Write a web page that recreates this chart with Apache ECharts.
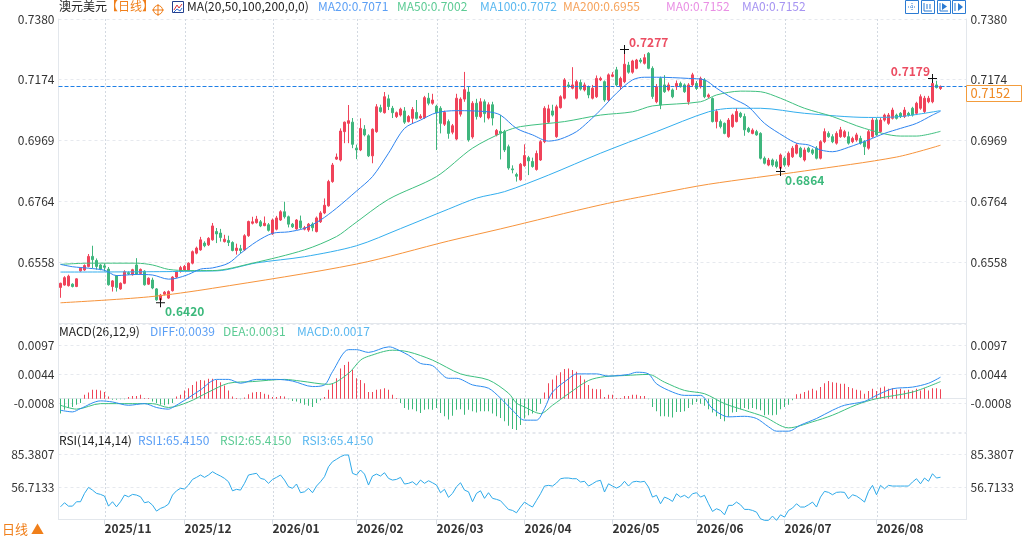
<!DOCTYPE html>
<html><head><meta charset="utf-8">
<script src="https://cdn.jsdelivr.net/npm/echarts@6/dist/echarts.min.js"></script>
<style>html,body{margin:0;padding:0;background:#fff}#c{width:1025px;height:540px}</style>
</head><body><div id="c"></div>
<script>
const FONT = "'Noto Sans CJK SC','Noto Sans',sans-serif";
// [open, close, low, high]
const candles = [
[0.6472,0.6486,0.6437,0.6488],[0.6480,0.6505,0.6478,0.6510],[0.6478,0.6510,0.6475,0.6515],[0.6483,0.6475,0.6472,0.6486],[0.6475,0.6501,0.6473,0.6503],
[0.6528,0.6537,0.6525,0.6540],[0.6531,0.6546,0.6528,0.6550],[0.6543,0.6577,0.6540,0.6585],[0.6577,0.6566,0.6537,0.6613],[0.6563,0.6543,0.6532,0.6570],
[0.6548,0.6534,0.6530,0.6551],[0.6545,0.6540,0.6526,0.6553],[0.6534,0.6481,0.6478,0.6541],[0.6475,0.6494,0.6458,0.6497],[0.6511,0.6472,0.6458,0.6514],
[0.6467,0.6486,0.6464,0.6489],[0.6486,0.6525,0.6483,0.6530],[0.6522,0.6518,0.6514,0.6526],[0.6515,0.6532,0.6512,0.6535],[0.6548,0.6517,0.6514,0.6571],
[0.6519,0.6533,0.6515,0.6536],[0.6527,0.6481,0.6478,0.6530],[0.6483,0.6503,0.6480,0.6506],[0.6497,0.6470,0.6466,0.6505],[0.6467,0.6430,0.6427,0.6470],
[0.6430,0.6446,0.6420,0.6450],[0.6449,0.6456,0.6445,0.6460],[0.6436,0.6458,0.6433,0.6462],[0.6461,0.6507,0.6458,0.6510],[0.6507,0.6524,0.6503,0.6528],
[0.6526,0.6539,0.6522,0.6545],[0.6531,0.6543,0.6528,0.6548],[0.6531,0.6554,0.6528,0.6557],[0.6554,0.6593,0.6550,0.6597],[0.6588,0.6605,0.6584,0.6610],
[0.6599,0.6633,0.6596,0.6643],[0.6622,0.6613,0.6608,0.6628],[0.6616,0.6638,0.6612,0.6642],[0.6633,0.6680,0.6630,0.6690],[0.6661,0.6653,0.6622,0.6673],
[0.6656,0.6641,0.6627,0.6670],[0.6627,0.6635,0.6624,0.6650],[0.6631,0.6624,0.6612,0.6647],[0.6624,0.6597,0.6594,0.6628],[0.6597,0.6605,0.6583,0.6620],
[0.6603,0.6597,0.6587,0.6616],[0.6599,0.6647,0.6595,0.6652],[0.6647,0.6695,0.6643,0.6698],[0.6689,0.6694,0.6685,0.6711],[0.6691,0.6703,0.6688,0.6714],
[0.6694,0.6680,0.6676,0.6700],[0.6681,0.6689,0.6679,0.6712],[0.6684,0.6665,0.6661,0.6690],[0.6653,0.6700,0.6650,0.6705],[0.6669,0.6707,0.6665,0.6714],
[0.6700,0.6728,0.6697,0.6733],[0.6728,0.6711,0.6705,0.6762],[0.6711,0.6686,0.6675,0.6715],[0.6686,0.6677,0.6673,0.6690],[0.6670,0.6700,0.6667,0.6703],
[0.6697,0.6674,0.6670,0.6715],[0.6669,0.6674,0.6665,0.6680],[0.6666,0.6686,0.6660,0.6690],[0.6686,0.6674,0.6662,0.6692],[0.6661,0.6707,0.6658,0.6712],
[0.6694,0.6724,0.6690,0.6730],[0.6724,0.6750,0.6720,0.6773],[0.6748,0.6830,0.6745,0.6836],[0.6830,0.6886,0.6826,0.6893],[0.6906,0.6913,0.6903,0.6925],
[0.6903,0.7001,0.6898,0.7010],[0.6999,0.7031,0.6960,0.7033],[0.7027,0.7036,0.6960,0.7089],[0.7031,0.6956,0.6943,0.7045],[0.6943,0.6937,0.6906,0.6955],
[0.6937,0.7010,0.6933,0.7044],[0.7007,0.6988,0.6983,0.7021],[0.6985,0.6917,0.6913,0.6990],[0.6917,0.7007,0.6892,0.7010],[0.6999,0.7083,0.6995,0.7092],
[0.7080,0.7067,0.7063,0.7090],[0.7063,0.7117,0.7060,0.7133],[0.7110,0.7084,0.7072,0.7124],[0.7078,0.7063,0.7045,0.7086],[0.7050,0.7063,0.7045,0.7067],
[0.7055,0.7075,0.7050,0.7080],[0.7069,0.7031,0.7025,0.7082],[0.7033,0.7050,0.7030,0.7055],[0.7044,0.7074,0.7025,0.7082],[0.7064,0.7044,0.7040,0.7106],
[0.7045,0.7051,0.7042,0.7058],[0.7046,0.7114,0.7042,0.7120],[0.7112,0.7095,0.7088,0.7130],[0.7095,0.7106,0.7090,0.7127],[0.7085,0.7062,0.6937,0.7090],
[0.7078,0.7027,0.6993,0.7085],[0.7024,0.7064,0.7018,0.7070],[0.7033,0.6993,0.6975,0.7040],[0.6997,0.7019,0.6990,0.7025],[0.6974,0.7112,0.6970,0.7127],
[0.7058,0.7109,0.7050,0.7115],[0.7109,0.7141,0.7100,0.7201],[0.7133,0.6971,0.6965,0.7153],[0.6981,0.7095,0.6975,0.7102],[0.7095,0.7050,0.7040,0.7110],
[0.7050,0.7100,0.7045,0.7112],[0.7100,0.7060,0.7030,0.7108],[0.7045,0.7090,0.7040,0.7098],[0.7090,0.7045,0.7020,0.7100],[0.6988,0.7003,0.6983,0.7008],
[0.7000,0.6994,0.6905,0.7055],[0.6999,0.6937,0.6930,0.7005],[0.6948,0.6876,0.6870,0.6955],[0.6873,0.6870,0.6858,0.6885],[0.6854,0.6848,0.6830,0.6860],
[0.6836,0.6889,0.6833,0.6893],[0.6884,0.6918,0.6880,0.6956],[0.6911,0.6900,0.6852,0.6917],[0.6898,0.6881,0.6877,0.6911],[0.6871,0.6925,0.6867,0.6935],
[0.6903,0.6965,0.6900,0.6970],[0.6965,0.7078,0.6960,0.7085],[0.7031,0.7076,0.7028,0.7090],[0.7069,0.7055,0.7050,0.7090],[0.6982,0.7083,0.6978,0.7090],
[0.7080,0.7117,0.7077,0.7122],[0.7112,0.7174,0.7108,0.7180],[0.7157,0.7152,0.7147,0.7167],[0.7146,0.7157,0.7142,0.7217],[0.7112,0.7168,0.7108,0.7174],
[0.7165,0.7143,0.7138,0.7175],[0.7140,0.7157,0.7135,0.7165],[0.7151,0.7123,0.7112,0.7155],[0.7112,0.7146,0.7108,0.7157],[0.7117,0.7179,0.7113,0.7189],
[0.7174,0.7179,0.7170,0.7185],[0.7168,0.7106,0.7100,0.7172],[0.7106,0.7191,0.7100,0.7196],[0.7186,0.7191,0.7183,0.7200],[0.7208,0.7157,0.7152,0.7218],
[0.7151,0.7179,0.7140,0.7185],[0.7168,0.7227,0.7163,0.7277],[0.7224,0.7200,0.7195,0.7235],[0.7200,0.7238,0.7195,0.7242],[0.7213,0.7241,0.7210,0.7245],
[0.7241,0.7236,0.7230,0.7248],[0.7230,0.7249,0.7226,0.7261],[0.7264,0.7213,0.7210,0.7268],[0.7213,0.7118,0.7110,0.7220],[0.7100,0.7151,0.7095,0.7160],
[0.7179,0.7089,0.7075,0.7185],[0.7157,0.7134,0.7130,0.7190],[0.7140,0.7157,0.7135,0.7165],[0.7140,0.7117,0.7112,0.7145],[0.7151,0.7162,0.7140,0.7172],
[0.7162,0.7151,0.7148,0.7168],[0.7157,0.7134,0.7130,0.7162],[0.7100,0.7157,0.7090,0.7163],[0.7157,0.7191,0.7150,0.7198],[0.7162,0.7145,0.7140,0.7170],
[0.7151,0.7179,0.7145,0.7185],[0.7174,0.7117,0.7112,0.7180],[0.7117,0.7123,0.7112,0.7128],[0.7111,0.7033,0.7030,0.7115],[0.7033,0.7067,0.7010,0.7075],
[0.7033,0.7016,0.7010,0.7040],[0.7027,0.6993,0.6990,0.7030],[0.6982,0.7038,0.6978,0.7045],[0.7016,0.7055,0.7012,0.7060],[0.7033,0.7067,0.7030,0.7079],
[0.7061,0.7050,0.7045,0.7066],[0.7050,0.7005,0.6985,0.7060],[0.7010,0.6999,0.6995,0.7015],[0.6993,0.7004,0.6990,0.7010],[0.6999,0.6988,0.6985,0.7005],
[0.6993,0.6909,0.6905,0.6997],[0.6909,0.6892,0.6888,0.6915],[0.6886,0.6903,0.6882,0.6910],[0.6903,0.6886,0.6880,0.6908],[0.6897,0.6881,0.6875,0.6905],
[0.6875,0.6920,0.6864,0.6925],[0.6909,0.6886,0.6880,0.6915],[0.6886,0.6926,0.6880,0.6932],[0.6914,0.6943,0.6910,0.6950],[0.6926,0.6954,0.6922,0.6960],
[0.6943,0.6914,0.6910,0.6948],[0.6903,0.6937,0.6898,0.6945],[0.6943,0.6931,0.6928,0.6948],[0.6937,0.6926,0.6920,0.6942],[0.6943,0.6909,0.6905,0.6950],
[0.6909,0.6965,0.6905,0.6970],[0.6965,0.6999,0.6960,0.7010],[0.6993,0.6982,0.6978,0.7000],[0.6982,0.6965,0.6960,0.6990],[0.6960,0.6993,0.6955,0.7000],
[0.6982,0.7005,0.6978,0.7015],[0.6982,0.6999,0.6978,0.7005],[0.6982,0.6960,0.6955,0.6999],[0.6965,0.6976,0.6960,0.6982],[0.6971,0.6988,0.6965,0.6995],
[0.6976,0.6960,0.6955,0.6985],[0.6965,0.6948,0.6920,0.6970],[0.6943,0.6999,0.6938,0.7005],[0.6982,0.7038,0.6978,0.7045],[0.7038,0.6988,0.6985,0.7045],
[0.6999,0.7038,0.6995,0.7045],[0.7038,0.7055,0.7033,0.7060],[0.7027,0.7055,0.7022,0.7062],[0.7044,0.7072,0.7040,0.7080],[0.7055,0.7044,0.7040,0.7060],
[0.7061,0.7050,0.7045,0.7065],[0.7050,0.7072,0.7045,0.7082],[0.7061,0.7055,0.7050,0.7066],[0.7078,0.7055,0.7050,0.7083],[0.7061,0.7095,0.7055,0.7100],
[0.7078,0.7117,0.7073,0.7125],[0.7067,0.7112,0.7062,0.7120],[0.7100,0.7112,0.7095,0.7120],[0.7100,0.7162,0.7095,0.7179],[0.7157,0.7148,0.7145,0.7171],
[0.7145,0.7152,0.7140,0.7155]
];
// moving averages: [candle index, value]
const ma20 = [[0,0.6550],[3,0.6542],[7,0.6537],[11,0.6530],[14,0.6512],[19,0.6516],[23,0.6514],[27,0.6500],[29,0.6503],[32,0.6516],[35,0.6534],[38,0.6538],[42,0.6554],[45,0.6587],[49,0.6627],[53,0.6655],[57,0.6660],[61,0.6672],[65,0.6700],[69,0.6740],[74,0.6798],[78,0.6847],[82,0.6926],[86,0.7010],[90,0.7038],[94,0.7063],[99,0.7070],[107,0.7066],[110,0.7055],[114,0.7010],[118,0.6988],[122,0.6967],[125,0.6974],[129,0.6999],[132,0.7033],[135,0.7072],[139,0.7129],[143,0.7174],[146,0.7183],[149,0.7183],[157,0.7179],[161,0.7174],[164,0.7146],[168,0.7112],[172,0.7083],[176,0.7027],[181,0.6982],[184,0.6960],[187,0.6954],[190,0.6937],[193,0.6931],[197,0.6946],[202,0.6971],[206,0.6993],[210,0.7010],[214,0.7027],[218,0.7055],[220,0.7068]];
const ma50 = [[0,0.6550],[7,0.6554],[19,0.6554],[23,0.6548],[27,0.6533],[32,0.6529],[38,0.6529],[48,0.6554],[61,0.6599],[69,0.6644],[73,0.6683],[82,0.6770],[94,0.6847],[103,0.6943],[111,0.6999],[115,0.7016],[126,0.7033],[135,0.7055],[143,0.7066],[148,0.7086],[160,0.7100],[164,0.7123],[170,0.7136],[175,0.7134],[180,0.7112],[186,0.7078],[193,0.7050],[201,0.7010],[210,0.6984],[214,0.6984],[220,0.7000]];
const ma100 = [[0,0.6524],[39,0.6528],[49,0.6555],[61,0.6576],[74,0.6613],[85,0.6671],[97,0.6737],[104,0.6774],[111,0.6796],[122,0.6852],[135,0.6926],[149,0.6999],[162,0.7066],[168,0.7078],[175,0.7078],[186,0.7061],[202,0.7047],[210,0.7050],[220,0.7070]];
const ma200 = [[0,0.6420],[22,0.6440],[38,0.6469],[74,0.6551],[97,0.6629],[110,0.6670],[135,0.6751],[150,0.6791],[162,0.6821],[186,0.6866],[209,0.6913],[220,0.6953]];
const diffLine = [[0,-0.0021],[3,-0.0024],[5,-0.0018],[10,-0.0004],[13,-0.0006],[17,-0.0012],[21,-0.0009],[24,-0.0016],[27,-0.0019],[28,-0.0016],[31,-0.0003],[35,0.0016],[39,0.0035],[42,0.0035],[45,0.0028],[49,0.0035],[54,0.0035],[58,0.0032],[63,0.0022],[66,0.0025],[68,0.0049],[72,0.0089],[74,0.0089],[77,0.0084],[82,0.0094],[83,0.0093],[87,0.0079],[90,0.0064],[93,0.0060],[97,0.0037],[99,0.0037],[103,0.0025],[107,0.0019],[110,0.0001],[113,-0.0021],[116,-0.0039],[119,-0.0039],[121,-0.0018],[123,0.0012],[127,0.0036],[129,0.0045],[134,0.0045],[137,0.0041],[142,0.0044],[144,0.0048],[147,0.0045],[149,0.0027],[153,0.0012],[156,0.0006],[160,0.0006],[163,-0.0018],[167,-0.0033],[171,-0.0032],[174,-0.0036],[177,-0.0051],[179,-0.0059],[182,-0.0059],[185,-0.0048],[189,-0.0036],[193,-0.0021],[196,-0.0012],[201,-0.0005],[204,0.0006],[208,0.0018],[213,0.0021],[217,0.0028],[220,0.0039]];
const deaLine = [[0,-0.0012],[4,-0.0019],[10,-0.0009],[18,-0.0009],[23,-0.0009],[27,-0.0016],[32,-0.0006],[37,0.0012],[42,0.0028],[48,0.0031],[56,0.0035],[60,0.0032],[67,0.0026],[72,0.0046],[75,0.0070],[77,0.0077],[83,0.0088],[87,0.0085],[93,0.0070],[100,0.0045],[107,0.0034],[112,0.0010],[114,-0.0008],[116,-0.0015],[120,-0.0027],[123,-0.0012],[127,0.0009],[132,0.0033],[136,0.0040],[141,0.0042],[147,0.0044],[151,0.0030],[156,0.0015],[161,0.0009],[166,-0.0009],[171,-0.0021],[176,-0.0033],[182,-0.0053],[188,-0.0042],[193,-0.0030],[199,-0.0011],[204,0.0000],[213,0.0012],[220,0.0031]];
const macdHist = [-0.0027,-0.0020,-0.0017,-0.0015,-0.0011,-0.0008,0.0007,0.0011,0.0016,0.0016,
0.0015,0.0012,0.0004,-0.0002,-0.0002,-0.0001,-0.0001,0.0003,0.0005,0.0005,
0.0007,0.0001,0.0001,-0.0005,-0.0008,-0.0011,-0.0012,-0.0010,-0.0008,0.0004,
0.0007,0.0015,0.0019,0.0025,0.0031,0.0034,0.0033,0.0036,0.0036,0.0034,
0.0030,0.0024,0.0015,0.0004,0.0001,-0.0001,0.0002,0.0008,0.0011,0.0012,
0.0012,0.0009,0.0007,0.0003,0.0003,0.0005,0.0004,-0.0001,-0.0004,-0.0005,
-0.0008,-0.0011,-0.0013,-0.0015,-0.0008,-0.0003,0.0003,0.0016,0.0028,0.0037,
0.0055,0.0061,0.0067,0.0052,0.0037,0.0034,0.0028,0.0012,0.0012,0.0016,
0.0017,0.0019,0.0016,0.0007,0.0001,-0.0008,-0.0017,-0.0020,-0.0019,-0.0023,
-0.0026,-0.0020,-0.0019,-0.0020,-0.0017,-0.0026,-0.0032,-0.0038,-0.0031,-0.0020,
-0.0019,-0.0029,-0.0020,-0.0023,-0.0025,-0.0023,-0.0023,-0.0023,-0.0027,-0.0032,
-0.0035,-0.0041,-0.0049,-0.0055,-0.0057,-0.0048,-0.0036,-0.0030,-0.0027,-0.0023,
-0.0009,0.0011,0.0028,0.0035,0.0042,0.0048,0.0054,0.0055,0.0052,0.0049,
0.0042,0.0035,0.0025,0.0018,0.0017,0.0017,0.0003,0.0007,0.0007,0.0001,
0.0001,0.0005,0.0005,0.0007,0.0007,0.0005,0.0005,-0.0001,-0.0015,-0.0023,
-0.0032,-0.0032,-0.0033,-0.0034,-0.0024,-0.0024,-0.0023,-0.0017,-0.0011,-0.0006,
-0.0009,-0.0013,-0.0019,-0.0025,-0.0032,-0.0037,-0.0041,-0.0033,-0.0025,-0.0024,
-0.0019,-0.0017,-0.0019,-0.0017,-0.0019,-0.0021,-0.0030,-0.0029,-0.0030,-0.0029,
-0.0019,-0.0015,-0.0011,-0.0003,0.0008,0.0009,0.0012,0.0015,0.0018,0.0015,
0.0021,0.0028,0.0032,0.0030,0.0029,0.0027,0.0027,0.0021,0.0019,0.0016,
0.0015,0.0009,0.0014,0.0018,0.0014,0.0020,0.0022,0.0018,0.0019,0.0016,
0.0018,0.0015,0.0016,0.0015,0.0018,0.0015,0.0019,0.0015,0.0019,0.0019,
0.0017];
const rsi = [39.2,42.8,39.8,39.8,43.7,43.7,51.1,56.4,54.0,51.1,
50.2,48.7,39.8,43.7,39.2,43.7,49.6,48.1,50.2,49.6,
48.1,42.8,43.7,40.7,35.4,37.8,39.2,41.6,49.6,53.4,
55.6,55.0,58.5,63.5,65.3,67.4,65.3,67.4,70.3,68.2,
66.5,64.4,61.4,53.4,54.7,54.0,60.0,67.4,68.2,68.9,
64.4,63.5,60.0,63.5,65.3,67.4,62.9,57.0,55.6,59.4,
51.7,52.5,55.6,51.7,57.6,61.4,65.9,74.7,79.2,81.3,
83.6,85.1,85.1,68.9,67.4,71.8,68.2,58.5,66.5,68.2,
66.5,69.4,64.4,62.9,63.5,65.3,59.4,60.0,61.4,58.5,
62.9,60.0,62.3,60.5,58.5,51.7,54.7,47.6,51.1,57.0,
60.5,54.0,52.5,43.7,51.1,53.4,46.7,51.7,46.7,45.8,
44.6,40.7,36.9,36.0,33.9,39.0,43.4,41.0,39.0,44.9,
50.8,57.6,58.2,57.6,60.3,64.1,64.7,64.7,64.1,64.1,
61.2,61.8,57.6,59.6,61.8,62.7,52.3,59.6,57.6,55.8,
57.6,61.8,57.6,61.2,61.8,61.2,61.8,56.7,47.8,49.4,
41.9,47.8,46.3,44.0,50.8,47.8,49.4,46.9,50.8,51.7,
47.8,49.4,41.9,35.1,37.5,36.0,32.1,40.5,40.5,43.4,
41.0,36.9,36.9,36.0,34.5,28.6,27.2,27.2,31.0,27.2,
32.1,30.1,36.0,38.1,41.9,39.0,39.0,41.0,43.4,39.0,
47.8,52.9,52.0,49.9,52.0,52.3,52.0,46.3,49.9,48.7,
46.3,43.4,52.9,58.2,49.9,58.2,55.2,58.2,57.6,57.6,
57.6,57.6,57.6,61.2,64.1,59.6,64.7,61.8,68.5,64.7,
65.4];
const monthStarts = [11,31,53,74,94,116,138,159,181,204];
const monthLabels = ['2025/11','2025/12','2026/01','2026/02','2026/03','2026/04','2026/05','2026/06','2026/07','2026/08'];
const priceTicks = ['0.6558','0.6764','0.6969','0.7174','0.7380'];
const macdTicks = ['-0.0008','0.0044','0.0097'];
const rsiTicks = ['56.7133','85.3807'];
const highMarks = [141, 218];
const lowMarks = [25, 180];
const legendTop = [
  ['澳元美元',59,'#222'],['【日线】',106,'#f07f1a'],['MA(20,50,100,200,0,0)',187,'#222'],
  ['MA20:0.7071',318,'#5b9ff5'],['MA50:0.7002',397,'#5ccb94'],['MA100:0.7072',480,'#5ab8f0'],
  ['MA200:0.6955',563,'#f6a35c'],['MA0:0.7152',666,'#e98fe4'],['MA0:0.7152',742,'#a694f2']];
const legendMacd = [['MACD(26,12,9)',59,'#222'],['DIFF:0.0039',150,'#5b9ff5'],['DEA:0.0031',223,'#5ccb94'],['MACD:0.0017',297,'#5ab8f0']];
const legendRsi = [['RSI(14,14,14)',59,'#222'],['RSI1:65.4150',138,'#5b9ff5'],['RSI2:65.4150',220,'#5ccb94'],['RSI3:65.4150',302,'#5ab8f0']];

const PAD = 6;
const categories = [];
for (let i = 0; i < candles.length + PAD; i++) categories.push(String(i));
const lastClose = candles[candles.length - 1][1];
const UP = '#f0435a', DOWN = '#3fb67d';
const gridCol = '#e6e9ee';
const GL = 58.5, GR = 58.5;

function tickFmt(list, tol) {
  return function (v) {
    for (const s of list) if (Math.abs(parseFloat(s) - v) < tol) return s;
    return '';
  };
}
const isMonth = (i) => monthStarts.indexOf(i) >= 0;

function xAxisFor(g, showLabel) {
  return {
    type: 'category', gridIndex: g, data: categories, boundaryGap: true,
    axisLine: { show: true, lineStyle: { color: '#e3e7ec' } },
    axisTick: { show: showLabel, alignWithLabel: true, interval: (i) => isMonth(i), length: 5, lineStyle: { color: '#d9dee5' } },
    splitLine: { show: false },
    axisLabel: showLabel ? {
      show: true, interval: (i) => isMonth(i), align: 'left', margin: 3,
      formatter: (v, i) => monthLabels[monthStarts.indexOf(i)] || '',
      color: '#333', fontFamily: FONT, fontSize: 12, fontWeight: 'bold'
    } : { show: false }
  };
}
function yAxisFor(g, pos, min, max, interval, ticks, tol) {
  return {
    type: 'value', gridIndex: g, position: pos, min: min, max: max, interval: interval, scale: true,
    axisLine: { show: true, lineStyle: { color: '#e3e7ec' } }, axisTick: { show: false },
    splitLine: { show: pos === 'left', lineStyle: { color: gridCol, type: [3, 3] } },
    axisLabel: { show: true, margin: 4, formatter: tickFmt(ticks, tol), color: '#333', fontFamily: FONT, fontSize: 12, showMinLabel: true, showMaxLabel: true }
  };
}

const markers = [];
highMarks.forEach((i, k) => markers.push({
  coord: [i, candles[i][3]], value: candles[i][3].toFixed(4),
  label: { position: k === 0 ? 'right' : 'left', distance: 0, offset: k === 0 ? [0, -7] : [2, -7], color: '#ec4d62' }
}));
lowMarks.forEach((i) => markers.push({
  coord: [i, candles[i][2]], value: candles[i][2].toFixed(4),
  label: { position: 'right', distance: 0, offset: [0, 9], color: '#3cb97c' }
}));

const series = [
  {
    type: 'candlestick', xAxisIndex: 0, yAxisIndex: 0, data: candles.map(c => [c[0], c[1], c[2], c[3]]),
    barWidth: 2,
    itemStyle: { color: UP, color0: DOWN, borderColor: UP, borderColor0: DOWN, borderWidth: 1 },
    markPoint: {
      silent: true, symbol: 'path://M4,0H5V4H9V5H5V9H4V5H0V4H4Z', symbolSize: 9,
      itemStyle: { color: '#111' },
      label: { show: true, formatter: (p) => p.value, fontFamily: FONT, fontSize: 12, fontWeight: 'bold' },
      data: markers
    }
  },
  { type: 'line', xAxisIndex: 0, yAxisIndex: 0, data: ma200, smooth: 0.3, showSymbol: false, lineStyle: { color: '#f7943c', width: 1 }, itemStyle: { color: '#f7943c' } },
  { type: 'line', xAxisIndex: 0, yAxisIndex: 0, data: ma100, smooth: 0.3, showSymbol: false, lineStyle: { color: '#33aeee', width: 1 }, itemStyle: { color: '#33aeee' } },
  { type: 'line', xAxisIndex: 0, yAxisIndex: 0, data: ma50, smooth: 0.3, showSymbol: false, lineStyle: { color: '#3fc07f', width: 1 }, itemStyle: { color: '#3fc07f' } },
  { type: 'line', xAxisIndex: 0, yAxisIndex: 0, data: ma20, smooth: 0.3, showSymbol: false, lineStyle: { color: '#2e84f0', width: 1 }, itemStyle: { color: '#2e84f0' } },
  { type: 'bar', xAxisIndex: 1, yAxisIndex: 2, data: macdHist, barWidth: 1, itemStyle: { color: (p) => p.value >= 0 ? '#ef4456' : '#3cb97a' } },
  { type: 'line', xAxisIndex: 1, yAxisIndex: 2, data: deaLine, smooth: 0.3, showSymbol: false, lineStyle: { color: '#3cc080', width: 1 } },
  { type: 'line', xAxisIndex: 1, yAxisIndex: 2, data: diffLine, smooth: 0.3, showSymbol: false, lineStyle: { color: '#2d8cf0', width: 1 } },
  { type: 'line', xAxisIndex: 2, yAxisIndex: 4, data: rsi, showSymbol: false, clip: false, lineStyle: { color: '#2eaaea', width: 1 } }
];

const graphics = [];
function addText(arr, y) {
  arr.forEach(t => graphics.push({ type: 'text', left: t[1], top: y - 8, silent: true,
    style: { text: t[0], fill: t[2], font: '12px ' + FONT } }));
}
addText(legendTop, 8);
addText(legendMacd, 333);
addText(legendRsi, 442);
graphics.push({ type: 'text', left: 2, top: 523, style: { text: '日线 ▲', fill: '#f07f1a', font: '13px ' + FONT } });
graphics.push({ type: 'circle', shape: { cx: 158, cy: 10, r: 4.5 }, style: { fill: 'none', stroke: '#f07f1a', lineWidth: 1 } });
graphics.push({ type: 'line', shape: { x1: 152, y1: 10, x2: 164, y2: 10 }, style: { stroke: '#f07f1a', lineWidth: 1 } });
graphics.push({ type: 'line', shape: { x1: 158, y1: 4, x2: 158, y2: 16 }, style: { stroke: '#f07f1a', lineWidth: 1 } });
graphics.push({ type: 'rect', shape: { x: 172.5, y: 1.5, width: 11, height: 11 }, style: { fill: '#fff', stroke: '#23408e', lineWidth: 1 } });
graphics.push({ type: 'polyline', shape: { points: [[174, 10], [177, 5], [179, 8], [182, 4]] }, style: { fill: 'none', stroke: '#d9363e', lineWidth: 1 } });
graphics.push({ type: 'polyline', shape: { points: [[174, 12], [177, 9], [180, 11], [182, 8]] }, style: { fill: 'none', stroke: '#2e6fd8', lineWidth: 1 } });
[905, 921, 937, 952].forEach((x, k) => {
  graphics.push({ type: 'rect', shape: { x: x + 0.5, y: 0.5, width: 13, height: 13 }, style: { fill: '#fff', stroke: '#2b7bd3', lineWidth: 1 } });
  const c = '#2b7bd3';
  if (k === 0) {
    graphics.push({ type: 'line', shape: { x1: x + 7, y1: 3, x2: x + 7, y2: 11 }, style: { stroke: c, lineDash: [1, 1] } });
    graphics.push({ type: 'line', shape: { x1: x + 3, y1: 7, x2: x + 11, y2: 7 }, style: { stroke: c, lineDash: [1, 1] } });
  } else if (k === 1) {
    graphics.push({ type: 'polyline', shape: { points: [[x + 3, 3], [x + 3, 11], [x + 11, 11]] }, style: { fill: 'none', stroke: c } });
    graphics.push({ type: 'line', shape: { x1: x + 6, y1: 4, x2: x + 6, y2: 9 }, style: { stroke: c } });
    graphics.push({ type: 'line', shape: { x1: x + 9, y1: 4, x2: x + 9, y2: 9 }, style: { stroke: c } });
  } else if (k === 2) {
    graphics.push({ type: 'polyline', shape: { points: [[x + 3, 3], [x + 3, 11], [x + 11, 11]] }, style: { fill: 'none', stroke: c } });
    graphics.push({ type: 'polygon', shape: { points: [[x + 5, 3], [x + 10, 6.5], [x + 5, 10]] }, style: { fill: c } });
  } else {
    graphics.push({ type: 'line', shape: { x1: x + 3, y1: 3, x2: x + 3, y2: 11 }, style: { stroke: c } });
    graphics.push({ type: 'polygon', shape: { points: [[x + 6, 3], [x + 11, 7], [x + 6, 11]] }, style: { fill: c } });
  }
});

const option = {
  animation: false,
  backgroundColor: '#fff',
  textStyle: { fontFamily: FONT },
  grid: [
    { left: GL, right: GR, top: 19, height: 303.75 },
    { left: GL, right: GR, top: 324.7, height: 107.3 },
    { left: GL, right: GR, top: 433, height: 86.4 }
  ],
  xAxis: [xAxisFor(0, false), xAxisFor(1, false), xAxisFor(2, true)],
  yAxis: [
    yAxisFor(0, 'left', 0.63525, 0.7380, 0.02055, priceTicks, 0.003),
    yAxisFor(0, 'right', 0.63525, 0.7380, 0.02055, priceTicks, 0.003),
    yAxisFor(1, 'left', -0.00605, 0.01343, 0.00525, macdTicks, 0.0008),
    yAxisFor(1, 'right', -0.00605, 0.01343, 0.00525, macdTicks, 0.0008),
    yAxisFor(2, 'left', 28.0459, 104.61, 28.6674, rsiTicks, 3),
    yAxisFor(2, 'right', 28.0459, 104.61, 28.6674, rsiTicks, 3)
  ],
  series: series,
  graphic: graphics
};

const chart = echarts.init(document.getElementById('c'), null, { renderer: 'canvas' });
chart.setOption(option);
// positions derived from the chart's own scales
const W = chart.getWidth();
const xRight = W - GR;
const yLast = Math.round(chart.convertToPixel({ yAxisIndex: 0 }, lastClose)) + 0.5;
const yTop = chart.convertToPixel({ yAxisIndex: 0 }, 0.7380);
const yBottom = chart.convertToPixel({ yAxisIndex: 4 }, 28.0459);
monthStarts.forEach(i => {
  const x = Math.round(chart.convertToPixel({ xAxisIndex: 0 }, i)) + 0.5;
  graphics.push({ type: 'line', z: 1, silent: true, shape: { x1: x, y1: yTop, x2: x, y2: yBottom },
    style: { stroke: '#d3d9e1', lineWidth: 1, lineDash: [2, 2] } });
});
graphics.push({ type: 'line', z: 3, silent: true, shape: { x1: GL, y1: yLast, x2: xRight, y2: yLast },
  style: { stroke: '#1f7fe6', lineWidth: 1, lineDash: [4, 2] } });
graphics.push({ type: 'rect', z: 4, shape: { x: xRight, y: yLast - 1, width: 55, height: 16 }, style: { fill: '#fff', stroke: '#f39c3c', lineWidth: 1 } });
graphics.push({ type: 'text', z: 5, left: xRight + 4, top: yLast, style: { text: lastClose.toFixed(4), fill: '#f08a24', font: '13px ' + FONT } });
chart.setOption({ graphic: graphics });
</script>
</body></html>
